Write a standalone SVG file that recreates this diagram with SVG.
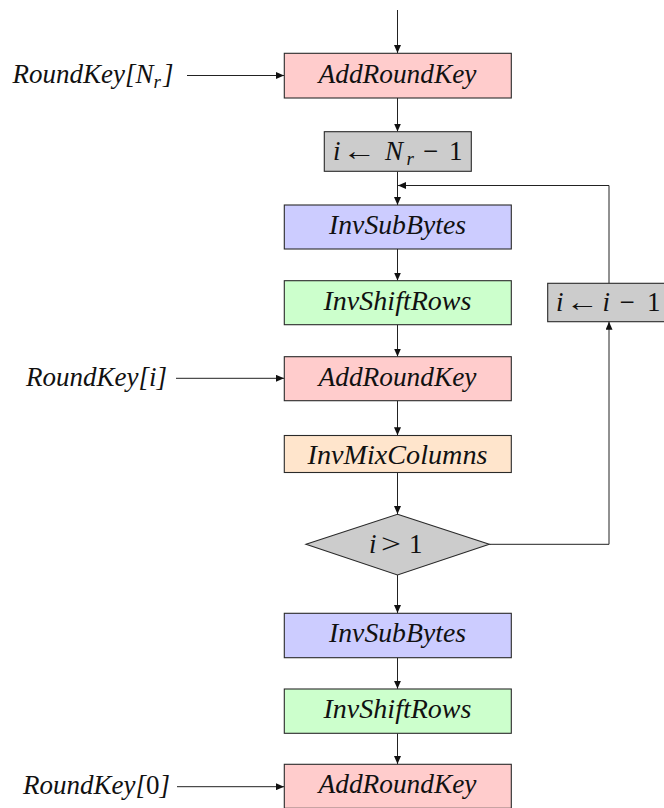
<svg xmlns="http://www.w3.org/2000/svg" width="664" height="808" viewBox="0 0 664 808">
<style>
.box{stroke:#2a2a2a;stroke-width:1.1}
.ark{fill:#ffcccc}
.sub{fill:#ccccff}
.shr{fill:#ccffcc}
.mix{fill:#ffe5cc}
.gry{fill:#cccccc}
text{font-family:'Liberation Serif','Times New Roman','DejaVu Serif',serif;font-size:27px;fill:#111}
.lbl{font-style:italic}
.it{font-style:italic}
.up{font-style:normal}
.sb{font-style:italic;font-size:19px}
.c{text-anchor:middle}
.con{fill:none;stroke:#222;stroke-width:1}
</style>
<defs>
<marker id="ah" markerUnits="userSpaceOnUse" markerWidth="9" markerHeight="7" refX="8" refY="3.5" orient="auto">
<path d="M0,0 L8,3.5 L0,7 z" fill="#111"/>
</marker>
</defs>
<g id="connectors">
<path class="con" d="M397.5,10 V53" marker-end="url(#ah)"/>
<path class="con" d="M397.5,98 V131.5" marker-end="url(#ah)"/>
<path class="con" d="M397.5,171.5 V205" marker-end="url(#ah)"/>
<path class="con" d="M609,283.3 V185.5 H398" marker-end="url(#ah)"/>
<path class="con" d="M397.5,249 V280.5" marker-end="url(#ah)"/>
<path class="con" d="M397.5,324.7 V356.5" marker-end="url(#ah)"/>
<path class="con" d="M397.5,400.7 V435.3" marker-end="url(#ah)"/>
<path class="con" d="M397.5,472.5 V514" marker-end="url(#ah)"/>
<path class="con" d="M397.5,575 V613" marker-end="url(#ah)"/>
<path class="con" d="M489.3,544.3 H609 V321.8" marker-end="url(#ah)"/>
<path class="con" d="M397.5,657.7 V688.8" marker-end="url(#ah)"/>
<path class="con" d="M397.5,733.3 V764" marker-end="url(#ah)"/>
<path class="con" d="M187,75.5 H284" marker-end="url(#ah)"/>
<path class="con" d="M176,378.3 H284" marker-end="url(#ah)"/>
<path class="con" d="M177,786.7 H284" marker-end="url(#ah)"/>
</g>
<g id="in-label-nr"><text class="lbl" x="12.5" y="83" font-size="28">RoundKey[N<tspan class="sb" dy="5">r</tspan><tspan dy="-5" dx="2">]</tspan></text></g>
<g id="in-label-i"><text class="lbl" x="26" y="386">RoundKey[i]</text></g>
<g id="in-label-0"><text class="lbl" x="23" y="794">RoundKey[<tspan class="up">0</tspan>]</text></g>
<g id="ark1"><rect class="box ark" x="284.3" y="53.3" width="227" height="44.7"/><text class="lbl c" x="397.5" y="82.5" textLength="158" lengthAdjust="spacingAndGlyphs">AddRoundKey</text></g>
<g id="init"><rect class="box gry" x="324.3" y="131.7" width="147" height="39.6"/>
<text><tspan class="it" x="333" y="159.5">i</tspan><tspan x="342" y="159.5" textLength="34" lengthAdjust="spacingAndGlyphs">←</tspan><tspan class="it" x="385" y="159.5">N</tspan><tspan class="sb" x="406.5" y="164.5">r</tspan><tspan x="423" y="159.5">−</tspan><tspan x="449" y="159.5">1</tspan></text></g>
<g id="isb1"><rect class="box sub" x="284.3" y="205" width="227" height="44"/><text class="lbl c" x="397.5" y="233.5" textLength="137" lengthAdjust="spacingAndGlyphs">InvSubBytes</text></g>
<g id="isr1"><rect class="box shr" x="284.3" y="280.7" width="227" height="44"/><text class="lbl c" x="397.5" y="309.5" textLength="148" lengthAdjust="spacingAndGlyphs">InvShiftRows</text></g>
<g id="ark2"><rect class="box ark" x="284.3" y="356.7" width="227" height="44"/><text class="lbl c" x="397.5" y="385.5" textLength="158" lengthAdjust="spacingAndGlyphs">AddRoundKey</text></g>
<g id="imc"><rect class="box mix" x="284.3" y="435.5" width="227" height="37"/><text class="lbl c" x="397.5" y="464" textLength="180" lengthAdjust="spacingAndGlyphs">InvMixColumns</text></g>
<g id="cond"><polygon class="box gry" points="397.5,514.3 489.3,544.3 397.5,575 306,544.3"/>
<text><tspan class="it" x="369" y="553">i</tspan><tspan x="381" y="553" textLength="20" lengthAdjust="spacingAndGlyphs">&gt;</tspan><tspan x="409" y="553">1</tspan></text></g>
<g id="dec"><rect class="box gry" x="547.7" y="283.3" width="123" height="38.4"/>
<text><tspan class="it" x="556" y="311">i</tspan><tspan x="565.5" y="311" textLength="33" lengthAdjust="spacingAndGlyphs">←</tspan><tspan class="it" x="602.5" y="311">i</tspan><tspan x="619.5" y="311">−</tspan><tspan x="647" y="311">1</tspan></text></g>
<g id="isb2"><rect class="box sub" x="284.3" y="613.3" width="227" height="44.4"/><text class="lbl c" x="397.5" y="642" textLength="137" lengthAdjust="spacingAndGlyphs">InvSubBytes</text></g>
<g id="isr2"><rect class="box shr" x="284.3" y="689" width="227" height="44.3"/><text class="lbl c" x="397.5" y="718" textLength="148" lengthAdjust="spacingAndGlyphs">InvShiftRows</text></g>
<g id="ark3"><rect class="box ark" x="284.3" y="764.3" width="227" height="44"/><text class="lbl c" x="397.5" y="793" textLength="158" lengthAdjust="spacingAndGlyphs">AddRoundKey</text></g>
</svg>
